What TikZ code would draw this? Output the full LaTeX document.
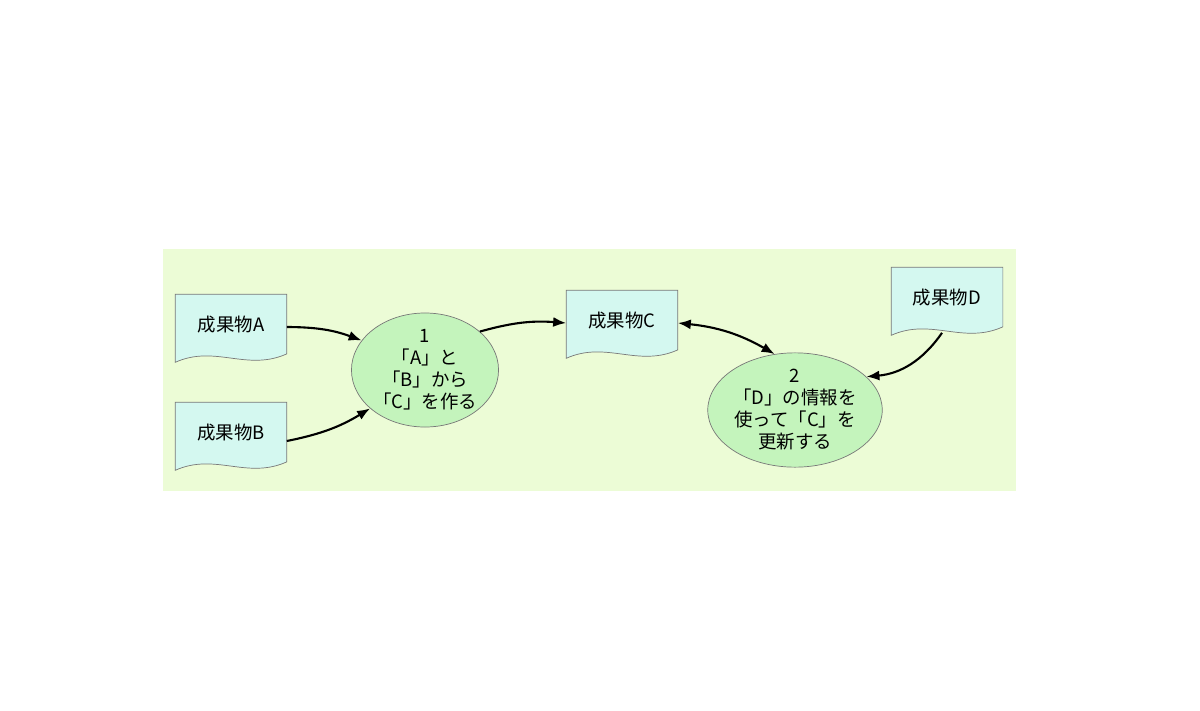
\documentclass[tikz,border=0pt]{standalone}
\usepackage{fontspec}
\setmainfont{Noto Sans CJK JP}
\usetikzlibrary{shapes.geometric, arrows.meta}
\definecolor{hintergrund}{RGB}{236, 252, 214}
\definecolor{dokument}{RGB}{212, 248, 240}
\definecolor{prozess}{RGB}{196, 244, 188}
\definecolor{rand}{RGB}{120, 120, 120}
\tikzset{
    doc/.style={minimum width=2.22cm, minimum height=1.3cm, inner sep=0pt, font=\fontsize{10.5}{12}\selectfont},
    docline/.style={draw=rand, fill=dokument, line width=0.4pt},
    proc/.style={draw=rand, fill=prozess, ellipse, inner sep=0pt, align=center, font=\fontsize{10.5}{12.5}\selectfont},
    conn/.style={-{Latex[length=2.6mm, width=2mm]}, line width=1.2pt, black},
}
\newcommand{\docoutline}[2]{%
    \draw[docline] (#1.north west) -- (#1.north east) -- ([yshift=0.12cm]#1.south east)
        .. controls +(-40,18) and +(40,-18) .. ([yshift=-0.05cm]#1.south west) -- cycle;
    \node[doc] (#1t) at ([yshift=0.05cm]#1.center) {#2};
}

\begin{document}
\begin{tikzpicture}[x=0.02cm, y=-0.02cm]
        \useasboundingbox (0,0) rectangle (1200,710);
        \fill[hintergrund] (163,249) rectangle (1016,491);

        \node [doc] (A) at (231,327) {};
        \node [doc] (B) at (231,435) {};
        \node [doc] (C) at (622,323) {};
        \node [doc] (D) at (947,300) {};
        \docoutline{A}{成果物A}
        \docoutline{B}{成果物B}
        \docoutline{C}{成果物C}
        \docoutline{D}{成果物D}

        \node [proc, minimum width=2.72cm, minimum height=2.28cm] (p1) at (425,370)
            {1\\「A」と\\「B」から\\「C」を作る};
        \node [proc, minimum width=3.08cm, minimum height=2.28cm] (p2) at (795,410)
            {2\\「D」の情報を\\使って「C」を\\更新する};

        \draw[conn] (A.east) to[bend left=10] (p1.155);
        \draw[conn] ([yshift=-0.12cm]B.east) to[bend right=10] (p1.215);
        \draw[conn] (p1.35) to[bend left=10] (C.west);
        \draw[{Latex[length=2.6mm, width=2mm]}-{Latex[length=2.6mm, width=2mm]}, line width=1.2pt]
            (C.east) to[bend left=12] (p2.110);
        \draw[conn] ([xshift=-0.1cm]D.south) to[bend left=25] (p2.25);
\end{tikzpicture}
\end{document}
